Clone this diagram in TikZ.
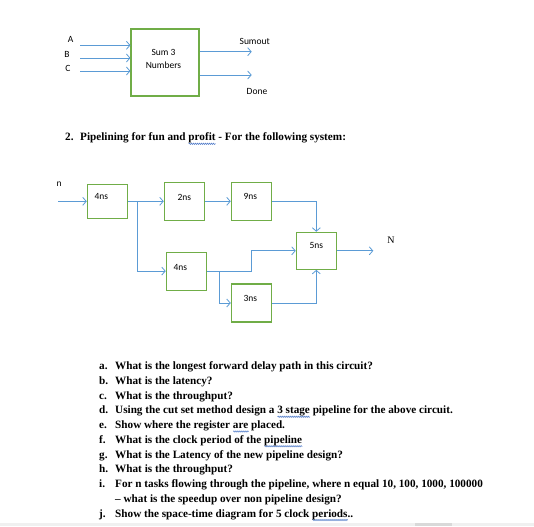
\documentclass[tikz,border=0pt]{standalone}
\usepackage{fontspec}
\setmainfont{Liberation Serif}
\newfontfamily\diagfont{Carlito}
\usetikzlibrary{positioning,arrows.meta,calc,decorations.pathmorphing}
\definecolor{wireblue}{HTML}{5B9BD5}
\definecolor{frame}{HTML}{70AD47}
\definecolor{spell}{HTML}{4472C4}
\tikzset{flow/.style={wireblue,line width=0.9pt,-{Straight Barb[length=3.5pt,width=8pt,line width=0.8pt]}},
  stagebox/.style={draw=frame,line width=1.1pt,minimum width=40pt,minimum height=38pt,inner sep=0pt},
  tag/.style={font=\diagfont\fontsize{9.5}{11}\selectfont,inner sep=0pt},
  qtext/.style={font=\bfseries\fontsize{11.2}{13}\selectfont,anchor=base west,inner sep=0pt}}
\newsavebox{\sqbox}
\newlength{\sqwd}
\newcommand{\squig}[1]{\sbox\sqbox{#1}\setlength{\sqwd}{\wd\sqbox}%
  \rlap{\tikz[baseline=0pt]\draw[spell,line width=0.5pt,decorate,decoration={snake,amplitude=0.7pt,segment length=2pt}] (0pt,-2.8pt) -- (\sqwd,-2.8pt);}\usebox\sqbox}
\newcommand{\stage}[5][]{%
  \node[stagebox,#1] (#2) at #3 {};
  \node[tag] (#2t) at ($(#2)+#5$) {#4};}

\begin{document}
\begin{tikzpicture}[x=1pt,y=-1pt,>=Latex]
    \useasboundingbox (0,0) rectangle (534,526);
    \node[draw=frame,line width=1.1pt,minimum width=68pt,minimum height=67pt] (sum) at (165,62.5) {};
    \node[tag,align=center] (sumtxt) at (163.5,59) {Sum 3\\[2.4pt]Numbers};
    \node[tag] (la) at (70.7,39) {A};
    \node[tag] (lb) at (67,54) {B};
    \node[tag] (lc) at (68,68) {C};
    \coordinate (ia) at (80,45.3);
    \coordinate (ib) at (80,58);
    \coordinate (ic) at (80,71);
    \foreach \p in {ia,ib,ic} \draw[flow] (\p) -- (\p -| sum.west);
    \coordinate (osum) at (251.7,51.7);
    \coordinate (odone) at (251.7,75);
    \foreach \p in {osum,odone} \draw[flow] (\p -| sum.east) -- (\p);
    \node[tag] (lsum) at (254.7,41) {Sumout};
    \node[tag] (ldone) at (257,91) {Done};

    \node[qtext] (num) at (65,141) {2.};
    \node[qtext] (head) at (80,141) {Pipelining for fun and \squig{profit} - For the following system:};

    \stage[minimum height=34pt]{s1}{(107.3,201.3)}{4ns}{(-6,-4.6)}
    \stage{s2}{(184.3,201.3)}{2ns}{(0,-4)}
    \stage{s3}{(251.3,201.3)}{9ns}{(-1,-5)}
    \stage[minimum height=37pt]{s4}{(316.3,250.8)}{5ns}{(0,-5)}
    \stage{s5}{(186.3,271.1)}{4ns}{(-6,-4)}
    \stage{s6}{(251.3,303)}{3ns}{(-1,-5)}
    \node[tag] (nin) at (59,184) {n};
    \coordinate (src) at (58,201.3);
    \draw[flow] (src) -- (s1);
    \draw[flow] (s1) -- (s2);
    \draw[flow] ($(s1.east)+(10,0)$) |- (s5);
    \draw[flow] (s2) -- (s3);
    \draw[flow] (s3) -| (s4);
    \draw[flow] (s5.east) -- ++(45,0) |- (s4);
    \draw[flow] ($(s5.east)+(13,0)$) |- (s6);
    \draw[flow] (s6) -| (s4);
    \coordinate (snk) at (373.3,250.8);
    \draw[flow] (s4) -- (snk);
    \node[font=\fontsize{10}{12}\selectfont,inner sep=0pt] (nout) at (391,240.7) {N};

    \foreach \k/\yy/\txt in {a/369.7/{What is the longest forward delay path in this circuit?},
      b/384.45/{What is the latency?},
      c/399.2/{What is the throughput?},
      d/413.95/{Using the cut set method design a \squig{3 stage} pipeline for the above circuit.},
      e/428.7/{Show where the register \squig{are} placed.},
      f/443.45/{What is the clock period of the \squig{pipeline}},
      g/458.2/{What is the Latency of the new pipeline design?},
      h/472.95/{What is the throughput?},
      i/487.7/{For n tasks flowing through the pipeline, where n equal 10, 100, 1000, 100000},
      j/517.2/{Show the space-time diagram for 5 clock \squig{periods}..}}{
      \node[qtext] (l\k) at (99,\yy) {\k.};
      \node[qtext] (q\k) at (115,\yy) {\txt};
    }
    \node[qtext] (qi2) at (115,502.45) {– what is the speedup over non pipeline design?};
    \fill[gray!12] (0,522.5) rectangle (534,526);
    \fill[gray!30] (415,522.5) rectangle (452,526);
  \end{tikzpicture}
\end{document}
